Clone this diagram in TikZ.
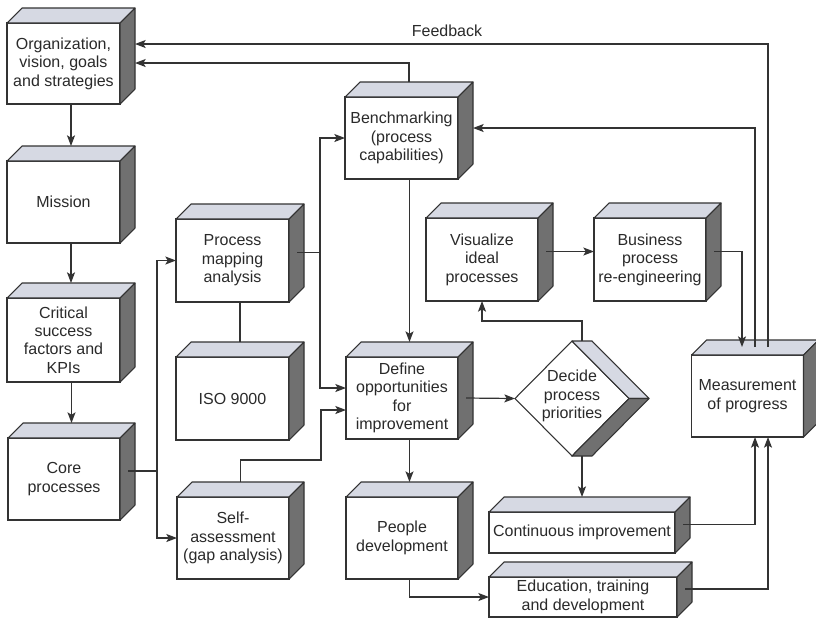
\documentclass[tikz,border=0pt]{standalone}
\usepackage{fontspec}
\setmainfont{Liberation Sans}
\usetikzlibrary{calc,arrows.meta,shapes.geometric}

\definecolor{ink}{HTML}{333333}
\definecolor{textink}{HTML}{2A2A2A}
\definecolor{topgray}{HTML}{D6D9E3}
\definecolor{sidegray}{HTML}{707070}

\tikzset{
  front/.style={draw=ink, line width=0.8pt, fill=white, align=center,
    inner sep=0pt, outer sep=0pt, text=textink, font=\fontsize{12}{13.8}\selectfont},
  txt/.style={align=center, inner sep=0pt, text=textink, font=\fontsize{12}{13.8}\selectfont},
  topface/.style={draw=ink, line width=0.8pt, fill=topgray, line join=round},
  sideface/.style={draw=ink, line width=0.8pt, fill=sidegray, line join=round},
  wire/.style={draw=ink, line width=0.9pt},
  arr/.style={wire, -{Stealth[length=8pt,width=6pt,inset=1.8pt]}},
}

% 3-D box: name, centre of front face, width, height (px), text
\newcommand\cubebox[5]{%
  \node[front, minimum width=#3*0.75pt, minimum height=#4*0.75pt] (#1) at #2 {#5};
  \filldraw[topface] (#1.north west) -- ++(15,-15) -- ++(#3,0) -- (#1.north east) -- cycle;
  \filldraw[sideface] (#1.north east) -- ++(15,-15) -- ++(0,#4) -- (#1.south east) -- cycle;
  \coordinate (#1t) at ($(#1.north)+(7.5,-15)$);
}

\begin{document}
\begin{tikzpicture}[x=0.75pt, y=-0.75pt]
\fill[white] (0,0) rectangle (816,619);
\useasboundingbox (0,0) rectangle (816,619);

% left column
\cubebox{org}{(63.5,63.5)}{113}{81}{Organization,\\vision, goals\\and strategies}
\cubebox{mission}{(63.5,202)}{113}{82}{Mission}
\cubebox{csf}{(63.5,340)}{113}{84}{Critical\\success\\factors and\\KPIs}
\cubebox{core}{(64,479)}{112}{82}{Core\\processes}

% second column
\cubebox{pma}{(232.5,260.5)}{113}{83}{Process\\mapping\\analysis}
\cubebox{iso}{(232.5,398.5)}{113}{83}{ISO 9000}
\cubebox{self}{(233,538)}{112}{82}{Self-\\assessment\\(gap analysis)}

% third column
\cubebox{bench}{(401.5,138)}{113}{82}{Benchmarking\\(process\\capabilities)}
\cubebox{define}{(402,398)}{112}{82}{Define\\opportunities\\for\\improvement}
\cubebox{people}{(402,538)}{112}{82}{People\\development}

% right part
\cubebox{vis}{(482,259.5)}{112}{83}{Visualize\\ideal\\processes}
\cubebox{bpr}{(650,259.5)}{112}{83}{Business\\process\\re-engineering}
\cubebox{meas}{(747.5,396)}{112}{82}{Measurement\\of progress}
\cubebox{cont}{(582,532.5)}{186}{41}{Continuous improvement}
\cubebox{edu}{(583,597)}{188}{40}{Education, training\\and development}

% decision diamond with its extruded faces
\node[diamond, draw=ink, line width=0.8pt, fill=white, minimum width=114*0.75pt,
      minimum height=115*0.75pt, inner sep=0pt, outer sep=0pt] (dec) at (572,398.5) {};
\filldraw[topface] (dec.north) -- ++(20,0) -- ($(dec.east)+(20,0)$) -- (dec.east) -- cycle;
\filldraw[sideface] (dec.east) -- ++(20,0) -- ($(dec.south)+(20,0)$) -- (dec.south) -- cycle;
\node[txt] (dectext) at (572,396) {Decide\\process\\priorities};

\node[txt] (fb) at (447,31) {Feedback};

% ---- connectors ----
% left column chain
\draw[arr] (missiont |- org.south) -- (missiont);
\draw[arr] (csft |- mission.south) -- (csft);
\draw[arr] (coret |- csf.south) -- (coret);

% core processes branch
\coordinate (coreout) at ($(core.east)+(8,-8)$);
\coordinate (split) at ($(coreout)+(29,0)$);
\draw[wire] (coreout) -- (split);
\draw[arr] (split) |- (pma.west);
\draw[arr] (split) |- (self.west);

% process mapping branch
\coordinate (pmaout) at ($(pma.east)+(8,-8)$);
\coordinate (pmasplit) at ($(pmaout)+(23,0)$);
\draw[wire] (pmaout) -- (pmasplit);
\draw[arr] (pmasplit) |- (bench.west);
\draw[arr] (pmasplit) |- ($(define.west)+(0,-10)$);
\draw[wire] (isot |- pma.south) -- (isot);

% self-assessment to opportunities
\draw[arr] (selft) |- (321,460) |- ($(define.west)+(0,12)$);

% benchmarking
\draw[arr] (definet |- bench.south) -- (definet);
\draw[arr] (bencht) |- ($(org.north east)+(15,40)$);

% feedback loops from measurement
\coordinate (measfb) at ($(meas.north)+(20.5,-8)$);
\coordinate (measbm) at ($(meas.north)+(7.5,-8)$);
\draw[arr] (measfb) |- ($(org.north east)+(15,21)$);
\draw[arr] (measbm) |- ($(bench.east)+(15,-10)$);

% visualize -> re-engineering -> measurement
\coordinate (visout) at ($(vis.east)+(8,-8)$);
\draw[arr] (visout) -- (visout -| bpr.west);
\coordinate (bprout) at ($(bpr.east)+(8,-8)$);
\coordinate (measin) at ($(meas.north)+(-5.5,-8)$);
\draw[arr] (bprout) -| (measin);

% opportunities -> decision
\draw[arr] ($(define.east)+(8,0)$) -- (dec.west);
\coordinate (decup) at ($(dec.north)+(10,0)$);
\draw[arr] (decup) |- ($(vis.south)+(0,20)$) -- (vis.south);
\coordinate (decdown) at ($(dec.south)+(10,0)$);
\draw[arr] (decdown) -- (decdown |- contt);

% people development
\draw[arr] (peoplet |- define.south) -- (peoplet);
\draw[arr] (peoplet |- people.south) |- (edu.west);

% into measurement from below
\coordinate (contout) at ($(cont.east)+(8,-8)$);
\coordinate (eduout) at ($(edu.east)+(8,-8)$);
\draw[arr] (contout) -| ($(meas.south)+(7.5,0)$);
\draw[arr] (eduout) -| ($(meas.south)+(20.5,0)$);
\end{tikzpicture}
\end{document}
